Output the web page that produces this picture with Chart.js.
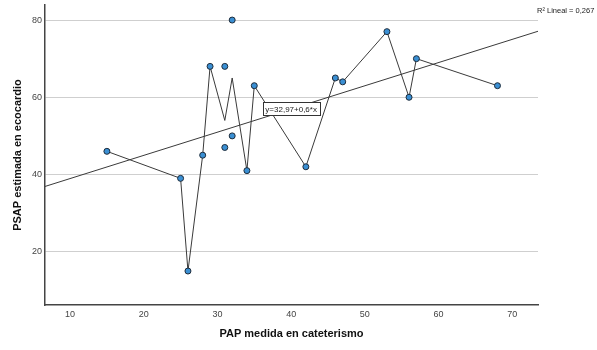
<!DOCTYPE html>
<html>
<head>
<meta charset="utf-8">
<script src="https://cdn.jsdelivr.net/npm/chart.js@4.4.1/dist/chart.umd.min.js"></script>
<style>
  body { margin: 0; background: #fff; }
  #wrap { width: 597px; height: 350px; position: relative; }
</style>
</head>
<body>
<div id="wrap"><canvas id="chartpsap"></canvas></div>
<script>
// PAP measured by catheterism (x) vs PSAP estimated by echo (y)
var papCat = [15, 25, 26, 28, 29, 31, 31, 32, 32, 34, 35, 42, 46, 47, 53, 56, 57, 68];
var psapEco = [46, 39, 15, 45, 68, 47, 68, 50, 80, 41, 63, 42, 65, 64, 77, 60, 70, 63];

// interpolation line (means at repeated x)
var interpX = [15, 25, 26, 28, 29, 31, 32, 34, 35, 42, 46, 47, 53, 56, 57, 68];
var interpY = [46, 39, 15, 45, 68, 54, 65, 41, 63, 42, 65, 64, 77, 60, 70, 63];

// linear fit end points, y = 32,97 + 0,6*x
var fitX = [6.6, 73.5];
var fitY = [36.9, 77.1];

var eqLabel = 'y=32,97+0,6*x';
var r2Label = 'R² Lineal = 0,267';

function toPts(xs, ys) {
    return xs.map(function(x, i){ return {x: x, y: ys[i]}; });
}

var textPlugin = {
    id: 'textPlugin',
    afterDatasetsDraw: function(chart) {
        var ctx = chart.ctx;
        var sx = chart.scales.x, sy = chart.scales.y;
        // equation box on the fit line
        var px = sx.getPixelForValue(40), py = sy.getPixelForValue(57);
        ctx.save();
        ctx.font = '8px "Liberation Sans", Arial, sans-serif';
        var w = ctx.measureText(eqLabel).width + 5;
        var h = 13;
        ctx.fillStyle = '#fff';
        ctx.fillRect(px - w / 2, py - h / 2, w, h);
        ctx.strokeStyle = '#333';
        ctx.lineWidth = 1;
        ctx.strokeRect(Math.round(px - w / 2) + 0.5, Math.round(py - h / 2) + 0.5, Math.round(w), h);
        ctx.fillStyle = '#222';
        ctx.textAlign = 'center';
        ctx.textBaseline = 'middle';
        ctx.fillText(eqLabel, px, py + 0.5);
        // R2 text top right
        ctx.font = '7.5px "Liberation Sans", Arial, sans-serif';
        ctx.textAlign = 'left';
        ctx.textBaseline = 'alphabetic';
        ctx.fillText(r2Label, chart.chartArea.right - 1, 13);
        ctx.restore();
    }
};

const config_chartpsap = {
    type: 'scatter',
    data: {
        datasets: [{
            label: 'Casos',
            data: toPts(papCat, psapEco),
            backgroundColor: '#3a8fd3',
            borderColor: '#1d2b3a',
            borderWidth: 1,
            pointRadius: 3,
            showLine: false
        }, {
            label: 'Interpolación',
            data: toPts(interpX, interpY),
            borderColor: '#3a3a3a',
            borderWidth: 1,
            pointRadius: 0,
            showLine: true,
            tension: 0
        }, {
            label: 'Lineal',
            data: toPts(fitX, fitY),
            borderColor: '#3a3a3a',
            borderWidth: 1,
            pointRadius: 0,
            showLine: true
        }]
    },
    options: {
        responsive: true,
        maintainAspectRatio: false,
        animation: false,
        layout: { padding: { top: 3, right: 59, left: 0, bottom: 0 } },
        plugins: { legend: { display: false }, tooltip: { enabled: false } },
        scales: {
            x: {
                type: 'linear',
                min: 6.6,
                max: 73.5,
                afterFit: function(s){ s.height = 45; s.paddingLeft = 0; s.paddingRight = 0; },
                grid: { display: false, drawTicks: false },
                border: { display: true, color: '#444', width: 1.5 },
                ticks: {
                    stepSize: 10, includeBounds: false, padding: 4,
                    color: '#444',
                    font: { size: 9, family: '"Liberation Sans", Arial, sans-serif' }
                },
                title: {
                    display: true,
                    text: 'PAP medida en cateterismo',
                    color: '#111',
                    padding: { top: 0, bottom: 9 },
                    font: { size: 11, weight: 'bold', family: '"Liberation Sans", Arial, sans-serif' }
                }
            },
            y: {
                type: 'linear',
                min: 6.2,
                max: 83.9,
                afterFit: function(s){ s.width = 45; s.paddingTop = 0; s.paddingBottom = 0; },
                grid: { color: '#cfcfcf', lineWidth: 1, drawTicks: false },
                border: { display: true, color: '#444', width: 1.5 },
                ticks: {
                    stepSize: 20, includeBounds: false, padding: 3,
                    color: '#444',
                    font: { size: 9, family: '"Liberation Sans", Arial, sans-serif' }
                },
                title: {
                    display: true,
                    text: 'PSAP estimada en ecocardio',
                    color: '#111',
                    padding: { top: 11, bottom: 0 },
                    font: { size: 11, weight: 'bold', family: '"Liberation Sans", Arial, sans-serif' }
                }
            }
        }
    },
    plugins: [textPlugin]
};

const chartpsap = new Chart(
    document.getElementById('chartpsap'),
    config_chartpsap
);
</script>
</body>
</html>
